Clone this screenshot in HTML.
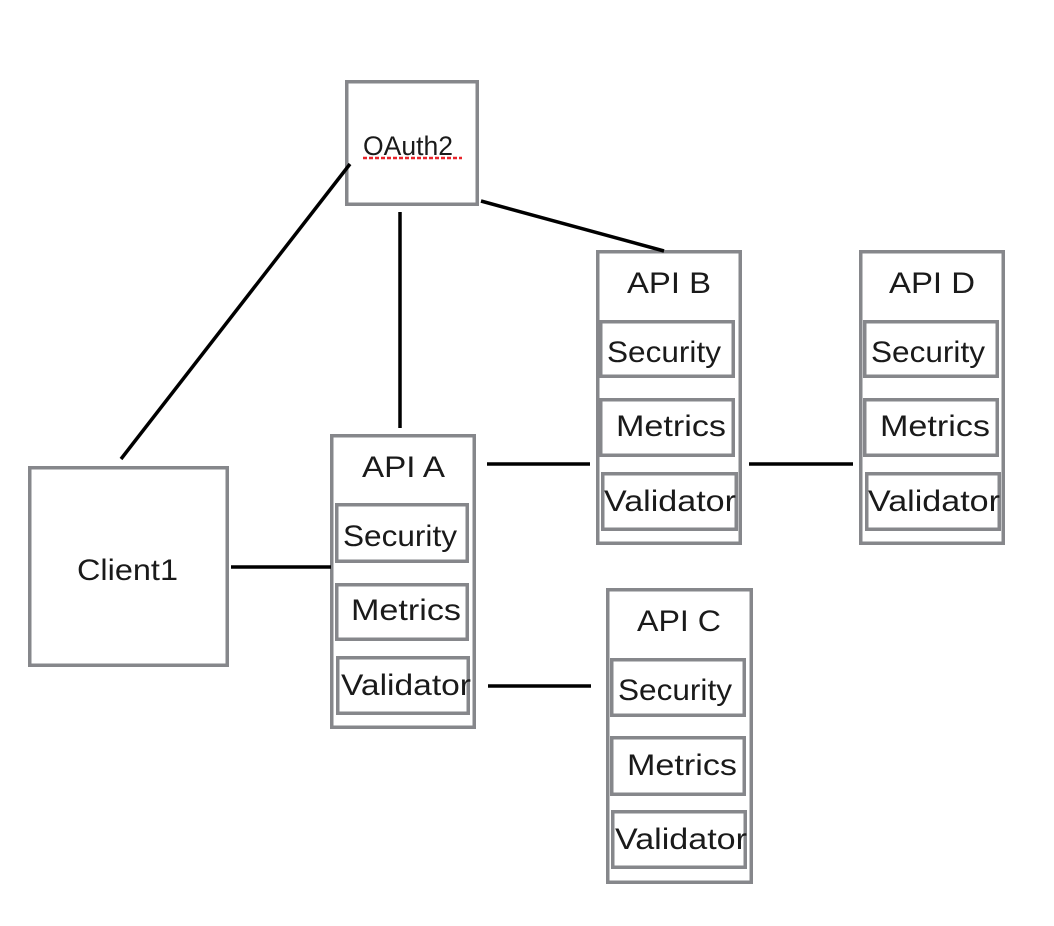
<!DOCTYPE html>
<html><head><meta charset="utf-8"><style>
html,body{margin:0;padding:0;background:#fff;}
svg{display:block;}
text{font-family:"Liberation Sans",sans-serif;fill:#1a1a1a;}
</style></head><body>
<svg width="1054" height="926" viewBox="0 0 1054 926" xmlns="http://www.w3.org/2000/svg">
<g fill="none" stroke="#86878b" stroke-width="3.5">
<rect x="346.75" y="81.75" width="130.5" height="122.5"/>
<rect x="29.75" y="467.75" width="197.5" height="197.5"/>
<rect x="331.75" y="435.75" width="142.5" height="291.5"/>
<rect x="336.75" y="504.75" width="130.5" height="56.5"/>
<rect x="336.75" y="584.75" width="130.5" height="54.5"/>
<rect x="337.75" y="657.75" width="130.5" height="55.5"/>
<rect x="597.75" y="251.75" width="142.5" height="291.5"/>
<rect x="600.75" y="321.75" width="132.5" height="54.5"/>
<rect x="600.75" y="399.75" width="132.5" height="55.5"/>
<rect x="602.75" y="473.75" width="133.5" height="55.5"/>
<rect x="860.75" y="251.75" width="142.5" height="291.5"/>
<rect x="864.75" y="321.75" width="132.5" height="54.5"/>
<rect x="864.75" y="399.75" width="132.5" height="55.5"/>
<rect x="866.75" y="473.75" width="132.5" height="55.5"/>
<rect x="607.75" y="589.75" width="143.5" height="292.5"/>
<rect x="611.75" y="659.75" width="132.5" height="55.5"/>
<rect x="611.75" y="737.75" width="132.5" height="56.5"/>
<rect x="612.75" y="811.75" width="132.5" height="55.5"/>
</g>
<g stroke="#000" stroke-width="3.5" fill="none">
<line x1="350" y1="164" x2="121" y2="459"/>
<line x1="400" y1="212" x2="400" y2="428"/>
<line x1="481" y1="201" x2="664" y2="251"/>
<line x1="487" y1="464" x2="590" y2="464"/>
<line x1="749" y1="464" x2="853" y2="464"/>
<line x1="231" y1="567" x2="331" y2="567"/>
<line x1="488" y1="686" x2="591" y2="686"/>
</g>
<line x1="363" y1="158" x2="462" y2="158" stroke="#e8242b" stroke-width="2.5" stroke-dasharray="4,2"/>
<g font-size="30">
<text x="363" y="155" font-size="27" textLength="90" lengthAdjust="spacingAndGlyphs">OAuth2</text>
<text x="77" y="580" font-size="30" textLength="101" lengthAdjust="spacingAndGlyphs">Client1</text>

<text x="362" y="477" textLength="83" lengthAdjust="spacingAndGlyphs">API A</text>
<text x="343" y="546" textLength="114" lengthAdjust="spacingAndGlyphs">Security</text>
<text x="351" y="620" textLength="110" lengthAdjust="spacingAndGlyphs">Metrics</text>
<text x="341" y="695" textLength="130" lengthAdjust="spacingAndGlyphs">Validator</text>

<text x="627" y="293" textLength="84" lengthAdjust="spacingAndGlyphs">API B</text>
<text x="607" y="362" textLength="114" lengthAdjust="spacingAndGlyphs">Security</text>
<text x="616" y="436" textLength="110" lengthAdjust="spacingAndGlyphs">Metrics</text>
<text x="604" y="511" textLength="132" lengthAdjust="spacingAndGlyphs">Validator</text>

<text x="889" y="293" textLength="86" lengthAdjust="spacingAndGlyphs">API D</text>
<text x="871" y="362" textLength="114" lengthAdjust="spacingAndGlyphs">Security</text>
<text x="880" y="436" textLength="110" lengthAdjust="spacingAndGlyphs">Metrics</text>
<text x="868" y="511" textLength="132" lengthAdjust="spacingAndGlyphs">Validator</text>

<text x="637" y="631" textLength="84" lengthAdjust="spacingAndGlyphs">API C</text>
<text x="618" y="700" textLength="114" lengthAdjust="spacingAndGlyphs">Security</text>
<text x="627" y="775" textLength="110" lengthAdjust="spacingAndGlyphs">Metrics</text>
<text x="615" y="849" textLength="132" lengthAdjust="spacingAndGlyphs">Validator</text>
</g>
</svg>
</body></html>
